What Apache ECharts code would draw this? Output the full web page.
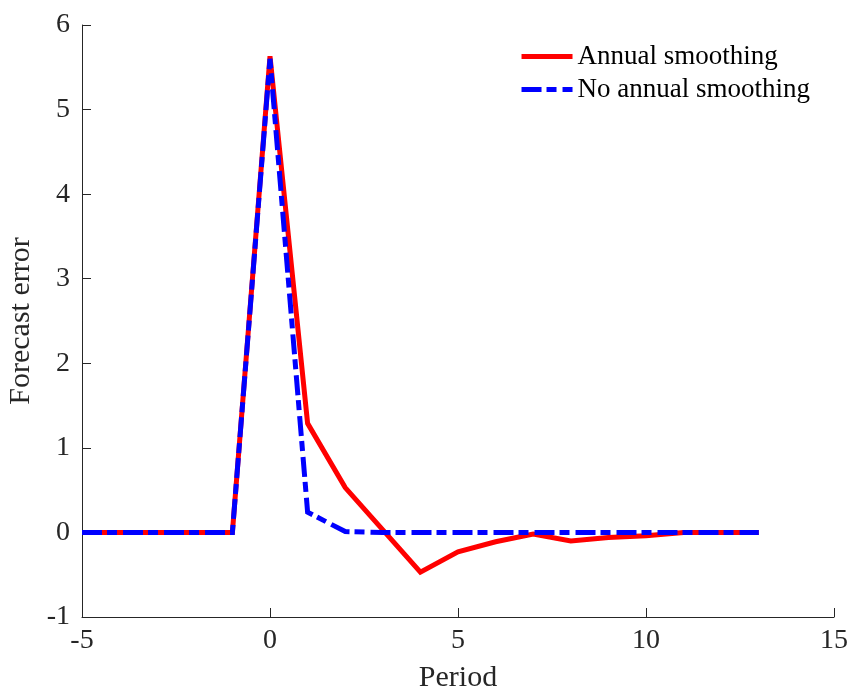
<!DOCTYPE html>
<html>
<head>
<meta charset="utf-8">
<script src="https://cdn.jsdelivr.net/npm/echarts@6/dist/echarts.min.js"></script>
<style>
  html, body { margin: 0; padding: 0; background: #fff; }
  #chart { width: 849px; height: 689px; }
</style>
</head>
<body>
<div id="chart"></div>
<script>
// Forecast error by period after a shock, with and without annual smoothing
const periods = [-5, -4, -3, -2, -1, 0, 1, 2, 3, 4, 5, 6, 7, 8, 9, 10, 11, 12, 13];
const annualSmoothing = [0, 0, 0, 0, 0, 5.63, 1.29, 0.53, 0.03, -0.47, -0.23, -0.11, -0.02, -0.10, -0.06, -0.04, 0, 0, 0];
const noAnnualSmoothing = [0, 0, 0, 0, 0, 5.60, 0.24, 0.01, 0, 0, 0, 0, 0, 0, 0, 0, 0, 0, 0];
const xTicks = { min: -5, max: 15, step: 5 };
const yTicks = { min: -1, max: 6, step: 1 };

const serif = '"Liberation Serif", "DejaVu Serif", serif';
const ink = '#262626';

const pairs = (xs, ys) => xs.map((x, i) => [x, ys[i]]);

const chart = echarts.init(document.getElementById('chart'), null, { renderer: 'canvas' });
chart.setOption({
  animation: false,
  backgroundColor: '#ffffff',
  grid: { left: 82, right: 15, top: 25, bottom: 72, containLabel: false, outerBoundsMode: 'none' },
  legend: {
    orient: 'vertical',
    right: 34,
    top: 38,
    itemWidth: 51,
    itemHeight: 14,
    itemGap: 6,
    itemStyle: { opacity: 0 },
    lineStyle: { width: 5 },
    textStyle: { fontFamily: serif, fontSize: 27, color: '#000' },
    data: ['Annual smoothing', 'No annual smoothing']
  },
  xAxis: {
    type: 'value',
    min: xTicks.min,
    max: xTicks.max,
    interval: xTicks.step,
    name: 'Period',
    nameLocation: 'middle',
    nameGap: 46,
    nameTextStyle: { fontFamily: serif, fontSize: 30, color: ink },
    axisLine: { show: true, onZero: false, lineStyle: { color: ink, width: 1 } },
    axisTick: { show: true, inside: true, length: 9, lineStyle: { color: ink } },
    axisLabel: { fontFamily: serif, fontSize: 28, color: ink, margin: 10 },
    splitLine: { show: false }
  },
  yAxis: {
    type: 'value',
    min: yTicks.min,
    max: yTicks.max,
    interval: yTicks.step,
    name: 'Forecast error',
    nameLocation: 'middle',
    nameRotate: 90,
    nameGap: 40,
    nameTextStyle: { fontFamily: serif, fontSize: 30, color: ink },
    axisLine: { show: true, onZero: false, lineStyle: { color: ink, width: 1 } },
    axisTick: { show: true, inside: true, length: 9, lineStyle: { color: ink } },
    axisLabel: { fontFamily: serif, fontSize: 28, color: ink, margin: 12 },
    splitLine: { show: false }
  },
  series: [
    {
      name: 'Annual smoothing',
      type: 'line',
      data: pairs(periods, annualSmoothing),
      showSymbol: false,
      symbol: 'none',
      lineStyle: { color: '#ff0000', width: 5, join: 'miter' },
      itemStyle: { color: '#ff0000' }
    },
    {
      name: 'No annual smoothing',
      type: 'line',
      data: pairs(periods, noAnnualSmoothing),
      showSymbol: false,
      symbol: 'none',
      lineStyle: { color: '#0000ff', width: 5, type: [20, 5, 10, 6], cap: 'butt', join: 'miter' },
      itemStyle: { color: '#0000ff' }
    }
  ]
});
</script>
</body>
</html>
